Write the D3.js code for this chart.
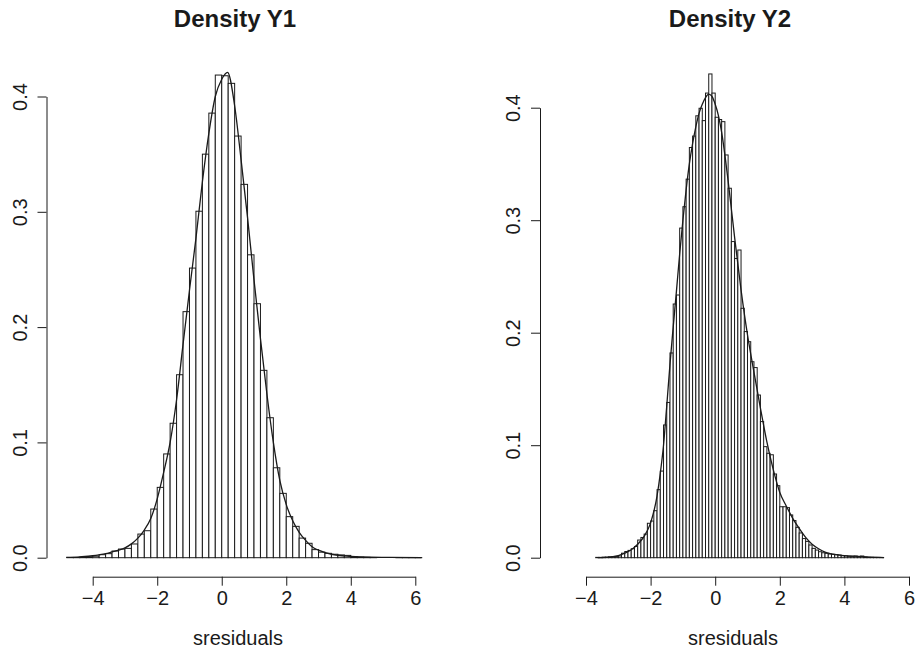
<!DOCTYPE html>
<html>
<head>
<meta charset="utf-8">
<script src="https://cdn.jsdelivr.net/npm/d3@7"></script>
<style>
    body { margin: 0; background: #fff; }
    svg { font-family: "Liberation Sans", Arial, Helvetica, sans-serif; }
    .bar { fill: #fff; stroke: #1a1a1a; stroke-width: 1; }
    .dens { fill: none; stroke: #1a1a1a; stroke-width: 1.3; }
    .axis path, .axis line { stroke: #1a1a1a; stroke-width: 1; }
    .axis text { font-size: 20px; fill: #1a1a1a; }
    .title { font-size: 24px; font-weight: bold; fill: #1a1a1a; }
    .xlab { font-size: 20px; fill: #1a1a1a; }
</style>
</head>
<body>
<div class="container"></div>
<script>
var xTicks = [-4, -2, 0, 2, 4, 6];
var yTicks = [0, 0.1, 0.2, 0.3, 0.4];

// Y1: breaks every 0.2 starting at -4.8
var y1Start = -4.8;
var y1Width = 0.2;
var y1Heights = [
    0.0002, 0.0002, 0.0005, 0.0008, 0.0013, 0.0026, 0.0035, 0.0058, 0.0075, 0.0081,
    0.0119, 0.0205, 0.0234, 0.0422, 0.0610, 0.0900, 0.1166, 0.1587, 0.2134, 0.2512,
    0.3005, 0.3500, 0.3856, 0.4186, 0.4180, 0.4114, 0.3657, 0.3238, 0.2627, 0.2203,
    0.1625, 0.1214, 0.0780, 0.0558, 0.0356, 0.0272, 0.0170, 0.0125, 0.0070, 0.0048,
    0.0038, 0.0030, 0.0024, 0.0020, 0.0008, 0.0005, 0.0003, 0.0001, 0, 0,
    0, 0.0001, 0.0001, 0.0001, 0.0001
];
var y1DensX = [-4.82, -4.4, -4.0, -3.8, -3.6, -3.4, -3.2, -3.0, -2.8, -2.6, -2.4, -2.2, -2.0, -1.8,
    -1.6, -1.4, -1.2, -1.0, -0.8, -0.6, -0.4, -0.2, 0.0, 0.18, 0.4, 0.6, 0.8, 1.0, 1.2, 1.4,
    1.6, 1.8, 2.0, 2.2, 2.4, 2.6, 2.8, 3.0, 3.4, 4.0, 4.6, 5.2, 6.19];
var y1DensY = [0.0002, 0.0008, 0.0017, 0.0025, 0.0035, 0.005, 0.0065, 0.0085, 0.012, 0.017, 0.024, 0.034, 0.051, 0.074,
    0.100, 0.137, 0.185, 0.232, 0.277, 0.326, 0.368, 0.400, 0.415, 0.421, 0.392, 0.345, 0.295, 0.241, 0.190, 0.142,
    0.100, 0.067, 0.046, 0.032, 0.022, 0.015, 0.0095, 0.0065, 0.003, 0.0012, 0.0004, 0.0002, 0.0001];

// Y2: breaks every 0.1 starting at -3.7
var y2Start = -3.7;
var y2Width = 0.1;
var y2Heights = [
    0.0003, 0.0003, 0.0005, 0.0005, 0.0008, 0.0010, 0.0010, 0.0015, 0.0040, 0.0055,
    0.0065, 0.0080, 0.0100, 0.0157, 0.0180, 0.0210, 0.0306, 0.0326, 0.0418, 0.0605,
    0.0770, 0.1180, 0.1380, 0.1820, 0.2255, 0.2335, 0.2930, 0.3120, 0.3365, 0.3646,
    0.3748, 0.3928, 0.3995, 0.3885, 0.4130, 0.4300, 0.4130, 0.3915, 0.3895, 0.3876,
    0.3580, 0.3284, 0.2810, 0.2660, 0.2735, 0.2217, 0.2010, 0.1920, 0.1742, 0.1690,
    0.1446, 0.1210, 0.0987, 0.0928, 0.0915, 0.0744, 0.0640, 0.0453, 0.0453, 0.0445,
    0.0380, 0.0330, 0.0270, 0.0220, 0.0170, 0.0145, 0.0113, 0.0083, 0.0068, 0.0053,
    0.0044, 0.0039, 0.0033, 0.0030, 0.0027, 0.0024, 0.0018, 0.0015, 0.0012, 0.0012,
    0.0015, 0.0010, 0.0015, 0.0005, 0.0003, 0.0003, 0.0002, 0.0002, 0.0001
];
var y2DensX = [-3.64, -3.2, -3.0, -2.8, -2.6, -2.4, -2.2, -2.0, -1.8, -1.7, -1.6, -1.5, -1.4, -1.3,
    -1.2, -1.1, -1.0, -0.9, -0.8, -0.7, -0.6, -0.5, -0.4, -0.3, -0.2, -0.1, 0.0, 0.1, 0.2,
    0.4, 0.6, 0.8, 1.0, 1.2, 1.4, 1.6, 1.8, 2.0, 2.2, 2.4, 2.6, 2.8, 3.0, 3.2, 3.4, 3.6,
    3.8, 4.0, 4.4, 4.8, 5.23];
var y2DensY = [0.0001, 0.0008, 0.0018, 0.004, 0.007, 0.012, 0.019, 0.031, 0.055, 0.075, 0.100, 0.135, 0.172, 0.205,
    0.237, 0.270, 0.300, 0.327, 0.350, 0.368, 0.383, 0.395, 0.403, 0.409, 0.412, 0.410, 0.403, 0.393, 0.378,
    0.335, 0.285, 0.238, 0.198, 0.165, 0.133, 0.103, 0.078, 0.058, 0.046, 0.035, 0.026, 0.018, 0.012, 0.008, 0.005, 0.0035,
    0.0025, 0.0018, 0.0012, 0.0006, 0.0001];

var _svg;

var translate = function (x, y) {
    return 'translate(' + x + ',' + y + ')';
};

var drawPanel = function (p) {
    var xScale = d3.scaleLinear().domain([-4, 6]).range(p.xRange);
    var yScale = d3.scaleLinear().domain([0, 0.4]).range(p.yRange);
    var g = _svg.append('g');

    var bins = p.heights.map(function (h, i) {
        return {x0: p.start + i * p.width, x1: p.start + (i + 1) * p.width, h: h};
    });

    g.selectAll('.bar')
        .data(bins)
        .enter().append('rect')
        .attr('class', 'bar')
        .attr('x', function (d) { return xScale(d.x0); })
        .attr('width', function (d) { return xScale(d.x1) - xScale(d.x0); })
        .attr('y', function (d) { return yScale(d.h); })
        .attr('height', function (d) { return yScale(0) - yScale(d.h); });

    var line = d3.line()
        .x(function (d) { return xScale(d[0]); })
        .y(function (d) { return yScale(d[1]); })
        .curve(d3.curveMonotoneX);

    g.append('path')
        .datum(d3.zip(p.densX, p.densY))
        .attr('class', 'dens')
        .attr('d', line);

    var xAxis = d3.axisBottom(xScale)
        .tickValues(xTicks)
        .tickSize(9)
        .tickSizeOuter(0)
        .tickPadding(5)
        .tickFormat(d3.format('d'));

    g.append('g')
        .attr('class', 'axis')
        .attr('transform', translate(0, p.xAxisY))
        .call(xAxis);

    var yAxis = d3.axisLeft(yScale)
        .tickValues(yTicks)
        .tickSize(9)
        .tickSizeOuter(0)
        .tickFormat(d3.format('.1f'));

    var ya = g.append('g')
        .attr('class', 'axis')
        .attr('transform', translate(p.yAxisX, 0))
        .call(yAxis);

    ya.selectAll('.tick text')
        .attr('transform', 'rotate(-90)')
        .attr('x', 0)
        .attr('y', -20)
        .attr('dy', null)
        .attr('text-anchor', 'middle');

    g.append('text')
        .attr('class', 'title')
        .attr('x', p.center)
        .attr('y', 27)
        .attr('text-anchor', 'middle')
        .text(p.title);

    g.append('text')
        .attr('class', 'xlab')
        .attr('x', p.center + 3)
        .attr('y', 645)
        .attr('text-anchor', 'middle')
        .text('sresiduals');
};

var drawChart = function () {
    _svg = d3.select('.container')
        .append('svg')
        .attr('width', 917)
        .attr('height', 650);

    drawPanel({
        title: 'Density Y1', start: y1Start, width: y1Width, heights: y1Heights,
        densX: y1DensX, densY: y1DensY,
        xRange: [92.7, 415.3], yRange: [557.7, 96.5],
        xAxisY: 576.7, yAxisX: 46.5, center: 235
    });

    drawPanel({
        title: 'Density Y2', start: y2Start, width: y2Width, heights: y2Heights,
        densX: y2DensX, densY: y2DensY,
        xRange: [586, 909], yRange: [557.7, 107.7],
        xAxisY: 576.7, yAxisX: 540, center: 730
    });
};

window.onload = drawChart;
</script>
</body>
</html>
